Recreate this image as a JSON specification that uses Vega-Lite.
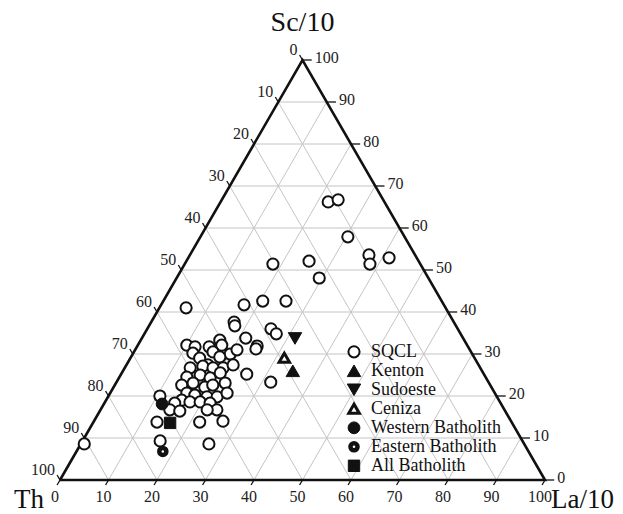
{
  "$schema": "https://vega.github.io/schema/vega-lite/v6.json",
  "width": 485,
  "height": 420,
  "autosize": {"type": "none"},
  "padding": {"left": 60, "top": 60, "right": 78, "bottom": 34},
  "background": "white",
  "config": {
    "view": {"stroke": null},
    "font": "Liberation Serif",
    "legend": {
      "orient": "none", "legendX": 285, "legendY": 283, "padding": 0,
      "labelFont": "Liberation Serif", "labelFontSize": 18, "labelColor": "#111",
      "symbolStrokeColor": "#111", "labelOffset": 8, "rowPadding": 0, "clipHeight": 17.6, "labelLimit": 300
    }
  },
  "datasets": {
    "grid": [
      {"La1": 0, "Sc1": 10, "La2": 90, "Sc2": 10}, {"La1": 0, "Sc1": 20, "La2": 80, "Sc2": 20}, {"La1": 0, "Sc1": 30, "La2": 70, "Sc2": 30},
      {"La1": 0, "Sc1": 40, "La2": 60, "Sc2": 40}, {"La1": 0, "Sc1": 50, "La2": 50, "Sc2": 50}, {"La1": 0, "Sc1": 60, "La2": 40, "Sc2": 60},
      {"La1": 0, "Sc1": 70, "La2": 30, "Sc2": 70}, {"La1": 0, "Sc1": 80, "La2": 20, "Sc2": 80}, {"La1": 0, "Sc1": 90, "La2": 10, "Sc2": 90},
      {"La1": 10, "Sc1": 0, "La2": 10, "Sc2": 90}, {"La1": 20, "Sc1": 0, "La2": 20, "Sc2": 80}, {"La1": 30, "Sc1": 0, "La2": 30, "Sc2": 70},
      {"La1": 40, "Sc1": 0, "La2": 40, "Sc2": 60}, {"La1": 50, "Sc1": 0, "La2": 50, "Sc2": 50}, {"La1": 60, "Sc1": 0, "La2": 60, "Sc2": 40},
      {"La1": 70, "Sc1": 0, "La2": 70, "Sc2": 30}, {"La1": 80, "Sc1": 0, "La2": 80, "Sc2": 20}, {"La1": 90, "Sc1": 0, "La2": 90, "Sc2": 10},
      {"La1": 90, "Sc1": 0, "La2": 0, "Sc2": 90}, {"La1": 80, "Sc1": 0, "La2": 0, "Sc2": 80}, {"La1": 70, "Sc1": 0, "La2": 0, "Sc2": 70},
      {"La1": 60, "Sc1": 0, "La2": 0, "Sc2": 60}, {"La1": 50, "Sc1": 0, "La2": 0, "Sc2": 50}, {"La1": 40, "Sc1": 0, "La2": 0, "Sc2": 40},
      {"La1": 30, "Sc1": 0, "La2": 0, "Sc2": 30}, {"La1": 20, "Sc1": 0, "La2": 0, "Sc2": 20}, {"La1": 10, "Sc1": 0, "La2": 0, "Sc2": 10}
    ],
    "outline": [
      {"o": 0, "La": 0, "Sc": 0}, {"o": 1, "La": 100, "Sc": 0}, {"o": 2, "La": 0, "Sc": 100}, {"o": 3, "La": 0, "Sc": 0}
    ],
    "names": [
      {"label": "Sc/10", "La": 0, "Sc": 100},
      {"label": "Th", "La": 0, "Sc": 0},
      {"label": "La/10", "La": 100, "Sc": 0}
    ],
    "ticks": [
      {"side": "left", "v": 0, "La1": 0, "Sc1": 100, "La2": -1.2, "Sc2": 101.2},
      {"side": "left", "v": 10, "La1": 0, "Sc1": 90, "La2": -1.2, "Sc2": 91.2},
      {"side": "left", "v": 20, "La1": 0, "Sc1": 80, "La2": -1.2, "Sc2": 81.2},
      {"side": "left", "v": 30, "La1": 0, "Sc1": 70, "La2": -1.2, "Sc2": 71.2},
      {"side": "left", "v": 40, "La1": 0, "Sc1": 60, "La2": -1.2, "Sc2": 61.2},
      {"side": "left", "v": 50, "La1": 0, "Sc1": 50, "La2": -1.2, "Sc2": 51.2},
      {"side": "left", "v": 60, "La1": 0, "Sc1": 40, "La2": -1.2, "Sc2": 41.2},
      {"side": "left", "v": 70, "La1": 0, "Sc1": 30, "La2": -1.2, "Sc2": 31.2},
      {"side": "left", "v": 80, "La1": 0, "Sc1": 20, "La2": -1.2, "Sc2": 21.2},
      {"side": "left", "v": 90, "La1": 0, "Sc1": 10, "La2": -1.2, "Sc2": 11.2},
      {"side": "left", "v": 100, "La1": 0, "Sc1": 0, "La2": -1.2, "Sc2": 1.2},
      {"side": "right", "v": 0, "La1": 100, "Sc1": 0, "La2": 101.9, "Sc2": 0},
      {"side": "right", "v": 10, "La1": 90, "Sc1": 10, "La2": 91.9, "Sc2": 10},
      {"side": "right", "v": 20, "La1": 80, "Sc1": 20, "La2": 81.9, "Sc2": 20},
      {"side": "right", "v": 30, "La1": 70, "Sc1": 30, "La2": 71.9, "Sc2": 30},
      {"side": "right", "v": 40, "La1": 60, "Sc1": 40, "La2": 61.9, "Sc2": 40},
      {"side": "right", "v": 50, "La1": 50, "Sc1": 50, "La2": 51.9, "Sc2": 50},
      {"side": "right", "v": 60, "La1": 40, "Sc1": 60, "La2": 41.9, "Sc2": 60},
      {"side": "right", "v": 70, "La1": 30, "Sc1": 70, "La2": 31.9, "Sc2": 70},
      {"side": "right", "v": 80, "La1": 20, "Sc1": 80, "La2": 21.9, "Sc2": 80},
      {"side": "right", "v": 90, "La1": 10, "Sc1": 90, "La2": 11.9, "Sc2": 90},
      {"side": "right", "v": 100, "La1": 0, "Sc1": 100, "La2": 1.9, "Sc2": 100},
      {"side": "bottom", "v": 0, "La1": 0, "Sc1": 0, "La2": 0, "Sc2": -1.2},
      {"side": "bottom", "v": 10, "La1": 10, "Sc1": 0, "La2": 10, "Sc2": -1.2},
      {"side": "bottom", "v": 20, "La1": 20, "Sc1": 0, "La2": 20, "Sc2": -1.2},
      {"side": "bottom", "v": 30, "La1": 30, "Sc1": 0, "La2": 30, "Sc2": -1.2},
      {"side": "bottom", "v": 40, "La1": 40, "Sc1": 0, "La2": 40, "Sc2": -1.2},
      {"side": "bottom", "v": 50, "La1": 50, "Sc1": 0, "La2": 50, "Sc2": -1.2},
      {"side": "bottom", "v": 60, "La1": 60, "Sc1": 0, "La2": 60, "Sc2": -1.2},
      {"side": "bottom", "v": 70, "La1": 70, "Sc1": 0, "La2": 70, "Sc2": -1.2},
      {"side": "bottom", "v": 80, "La1": 80, "Sc1": 0, "La2": 80, "Sc2": -1.2},
      {"side": "bottom", "v": 90, "La1": 90, "Sc1": 0, "La2": 90, "Sc2": -1.2},
      {"side": "bottom", "v": 100, "La1": 100, "Sc1": 0, "La2": 100, "Sc2": -1.2}
    ],
    "samples": [
      {"group": "SQCL", "La": 22.2, "Sc": 66.2}, {"group": "SQCL", "La": 24.0, "Sc": 66.7},
      {"group": "SQCL", "La": 30.4, "Sc": 57.9}, {"group": "SQCL", "La": 36.9, "Sc": 53.6},
      {"group": "SQCL", "La": 38.2, "Sc": 51.4}, {"group": "SQCL", "La": 41.4, "Sc": 52.9},
      {"group": "SQCL", "La": 18.2, "Sc": 51.4}, {"group": "SQCL", "La": 25.3, "Sc": 52.1},
      {"group": "SQCL", "La": 29.4, "Sc": 48.1},
      {"group": "SQCL", "La": 5.5, "Sc": 41.0}, {"group": "SQCL", "La": 17.1, "Sc": 41.7},
      {"group": "SQCL", "La": 20.5, "Sc": 42.6}, {"group": "SQCL", "La": 25.3, "Sc": 42.6},
      {"group": "SQCL", "La": 17.1, "Sc": 37.6}, {"group": "SQCL", "La": 17.7, "Sc": 36.7},
      {"group": "SQCL", "La": 25.5, "Sc": 36.0}, {"group": "SQCL", "La": 27.2, "Sc": 34.8},
      {"group": "SQCL", "La": 21.4, "Sc": 33.8}, {"group": "SQCL", "La": 24.7, "Sc": 31.9},
      {"group": "SQCL", "La": 24.8, "Sc": 31.2}, {"group": "SQCL", "La": 25.9, "Sc": 25.2},
      {"group": "SQCL", "La": 31.8, "Sc": 23.3},
      {"group": "SQCL", "La": 10.1, "Sc": 32.1}, {"group": "SQCL", "La": 12.0, "Sc": 31.7},
      {"group": "SQCL", "La": 14.9, "Sc": 31.7}, {"group": "SQCL", "La": 16.3, "Sc": 33.3},
      {"group": "SQCL", "La": 17.3, "Sc": 32.1}, {"group": "SQCL", "La": 20.1, "Sc": 30.0},
      {"group": "SQCL", "La": 21.0, "Sc": 31.0}, {"group": "SQCL", "La": 12.3, "Sc": 30.2},
      {"group": "SQCL", "La": 14.3, "Sc": 29.0}, {"group": "SQCL", "La": 16.3, "Sc": 30.5},
      {"group": "SQCL", "La": 18.3, "Sc": 29.3}, {"group": "SQCL", "La": 16.8, "Sc": 27.4},
      {"group": "SQCL", "La": 13.5, "Sc": 26.7}, {"group": "SQCL", "La": 20.3, "Sc": 26.7},
      {"group": "SQCL", "La": 22.0, "Sc": 27.4}, {"group": "SQCL", "La": 15.9, "Sc": 27.1},
      {"group": "SQCL", "La": 18.2, "Sc": 26.7}, {"group": "SQCL", "La": 13.9, "Sc": 24.5},
      {"group": "SQCL", "La": 16.4, "Sc": 25.0}, {"group": "SQCL", "La": 18.8, "Sc": 24.3},
      {"group": "SQCL", "La": 20.3, "Sc": 25.5}, {"group": "SQCL", "La": 22.5, "Sc": 23.1},
      {"group": "SQCL", "La": 13.8, "Sc": 22.6}, {"group": "SQCL", "La": 15.9, "Sc": 23.1},
      {"group": "SQCL", "La": 18.8, "Sc": 22.1}, {"group": "SQCL", "La": 20.2, "Sc": 22.6},
      {"group": "SQCL", "La": 15.8, "Sc": 20.7}, {"group": "SQCL", "La": 17.7, "Sc": 20.2},
      {"group": "SQCL", "La": 20.4, "Sc": 19.8}, {"group": "SQCL", "La": 22.5, "Sc": 19.8},
      {"group": "SQCL", "La": 24.1, "Sc": 20.7}, {"group": "SQCL", "La": 15.6, "Sc": 19.0},
      {"group": "SQCL", "La": 17.5, "Sc": 18.6}, {"group": "SQCL", "La": 19.6, "Sc": 18.6},
      {"group": "SQCL", "La": 21.8, "Sc": 18.3}, {"group": "SQCL", "La": 14.5, "Sc": 18.3},
      {"group": "SQCL", "La": 14.3, "Sc": 16.7}, {"group": "SQCL", "La": 24.0, "Sc": 16.7},
      {"group": "SQCL", "La": 16.5, "Sc": 16.4}, {"group": "SQCL", "La": 22.0, "Sc": 16.7},
      {"group": "SQCL", "La": 10.6, "Sc": 20.0}, {"group": "SQCL", "La": 13.1, "Sc": 13.8},
      {"group": "SQCL", "La": 16.0, "Sc": 9.3}, {"group": "SQCL", "La": 26.4, "Sc": 8.6},
      {"group": "SQCL", "La": 21.9, "Sc": 13.8}, {"group": "SQCL", "La": 26.6, "Sc": 14.0},
      {"group": "SQCL", "La": 0.7, "Sc": 8.6},
      {"group": "Kenton", "La": 35.0, "Sc": 26.0},
      {"group": "Sudoeste", "La": 31.6, "Sc": 33.7},
      {"group": "Ceniza", "La": 31.7, "Sc": 29.1},
      {"group": "Western Batholith", "La": 12.0, "Sc": 18.1},
      {"group": "Eastern Batholith", "La": 17.8, "Sc": 6.8},
      {"group": "All Batholith", "La": 15.9, "Sc": 13.6}
    ]
  },
  "layer": [
    {
      "data": {"name": "grid"},
      "transform": [
        {"calculate": "datum.La1 + datum.Sc1 / 2", "as": "h1"},
        {"calculate": "datum.La2 + datum.Sc2 / 2", "as": "h2"}
      ],
      "mark": {"type": "rule", "color": "#c4c4c4", "strokeWidth": 1},
      "encoding": {
        "x": {"field": "h1", "type": "quantitative", "scale": {"domain": [0, 100], "nice": false, "zero": false}, "axis": null},
        "y": {"field": "Sc1", "type": "quantitative", "scale": {"domain": [0, 100], "nice": false, "zero": false}, "axis": null},
        "x2": {"field": "h2"},
        "y2": {"field": "Sc2"}
      }
    },
    {
      "data": {"name": "ticks"},
      "transform": [
        {"calculate": "datum.La1 + datum.Sc1 / 2", "as": "h1"},
        {"calculate": "datum.La2 + datum.Sc2 / 2", "as": "h2"}
      ],
      "mark": {"type": "rule", "color": "#111", "strokeWidth": 1.3},
      "encoding": {
        "x": {"field": "h1", "type": "quantitative", "scale": {"domain": [0, 100], "nice": false, "zero": false}, "axis": null},
        "y": {"field": "Sc1", "type": "quantitative", "scale": {"domain": [0, 100], "nice": false, "zero": false}, "axis": null},
        "x2": {"field": "h2"},
        "y2": {"field": "Sc2"}
      }
    },
    {
      "data": {"name": "outline"},
      "transform": [{"calculate": "datum.La + datum.Sc / 2", "as": "h"}],
      "mark": {"type": "line", "color": "#111", "strokeWidth": 2.6, "strokeJoin": "miter"},
      "encoding": {
        "x": {"field": "h", "type": "quantitative", "scale": {"domain": [0, 100], "nice": false, "zero": false}, "axis": null},
        "y": {"field": "Sc", "type": "quantitative", "scale": {"domain": [0, 100], "nice": false, "zero": false}, "axis": null},
        "order": {"field": "o", "type": "quantitative"}
      }
    },
    {
      "data": {"name": "ticks"},
      "transform": [
        {"filter": "datum.side == 'left'"},
        {"calculate": "datum.La2 + datum.Sc2 / 2", "as": "h2"}
      ],
      "mark": {"type": "text", "align": "right", "baseline": "middle", "dx": -2, "dy": -5, "fontSize": 16, "font": "Liberation Serif", "color": "#222"},
      "encoding": {
        "x": {"field": "h2", "type": "quantitative", "scale": {"domain": [0, 100], "nice": false, "zero": false}, "axis": null},
        "y": {"field": "Sc2", "type": "quantitative", "scale": {"domain": [0, 100], "nice": false, "zero": false}, "axis": null},
        "text": {"field": "v", "type": "nominal"}
      }
    },
    {
      "data": {"name": "ticks"},
      "transform": [
        {"filter": "datum.side == 'right'"},
        {"calculate": "datum.La2 + datum.Sc2 / 2", "as": "h2"}
      ],
      "mark": {"type": "text", "align": "left", "baseline": "middle", "dx": 3, "dy": -2, "fontSize": 16, "font": "Liberation Serif", "color": "#222"},
      "encoding": {
        "x": {"field": "h2", "type": "quantitative", "scale": {"domain": [0, 100], "nice": false, "zero": false}, "axis": null},
        "y": {"field": "Sc2", "type": "quantitative", "scale": {"domain": [0, 100], "nice": false, "zero": false}, "axis": null},
        "text": {"field": "v", "type": "nominal"}
      }
    },
    {
      "data": {"name": "ticks"},
      "transform": [
        {"filter": "datum.side == 'bottom'"},
        {"calculate": "datum.La2 + datum.Sc2 / 2", "as": "h2"}
      ],
      "mark": {"type": "text", "align": "center", "baseline": "middle", "dx": -2, "dy": 12, "fontSize": 16, "font": "Liberation Serif", "color": "#222"},
      "encoding": {
        "x": {"field": "h2", "type": "quantitative", "scale": {"domain": [0, 100], "nice": false, "zero": false}, "axis": null},
        "y": {"field": "Sc2", "type": "quantitative", "scale": {"domain": [0, 100], "nice": false, "zero": false}, "axis": null},
        "text": {"field": "v", "type": "nominal"}
      }
    },
    {
      "data": {"name": "names"},
      "transform": [
        {"filter": "datum.label == 'Sc/10'"},
        {"calculate": "datum.La + datum.Sc / 2", "as": "h"}
      ],
      "mark": {"type": "text", "align": "center", "baseline": "alphabetic", "dx": 0, "dy": -29, "fontSize": 28, "font": "Liberation Serif", "color": "#111"},
      "encoding": {
        "x": {"field": "h", "type": "quantitative", "scale": {"domain": [0, 100], "nice": false, "zero": false}, "axis": null},
        "y": {"field": "Sc", "type": "quantitative", "scale": {"domain": [0, 100], "nice": false, "zero": false}, "axis": null},
        "text": {"field": "label", "type": "nominal"}
      }
    },
    {
      "data": {"name": "names"},
      "transform": [
        {"filter": "datum.label == 'Th'"},
        {"calculate": "datum.La + datum.Sc / 2", "as": "h"}
      ],
      "mark": {"type": "text", "align": "right", "baseline": "alphabetic", "dx": -16, "dy": 28, "fontSize": 27, "font": "Liberation Serif", "color": "#111"},
      "encoding": {
        "x": {"field": "h", "type": "quantitative", "scale": {"domain": [0, 100], "nice": false, "zero": false}, "axis": null},
        "y": {"field": "Sc", "type": "quantitative", "scale": {"domain": [0, 100], "nice": false, "zero": false}, "axis": null},
        "text": {"field": "label", "type": "nominal"}
      }
    },
    {
      "data": {"name": "names"},
      "transform": [
        {"filter": "datum.label == 'La/10'"},
        {"calculate": "datum.La + datum.Sc / 2", "as": "h"}
      ],
      "mark": {"type": "text", "align": "left", "baseline": "alphabetic", "dx": 6, "dy": 28, "fontSize": 27, "font": "Liberation Serif", "color": "#111"},
      "encoding": {
        "x": {"field": "h", "type": "quantitative", "scale": {"domain": [0, 100], "nice": false, "zero": false}, "axis": null},
        "y": {"field": "Sc", "type": "quantitative", "scale": {"domain": [0, 100], "nice": false, "zero": false}, "axis": null},
        "text": {"field": "label", "type": "nominal"}
      }
    },
    {
      "data": {"name": "samples"},
      "transform": [{"calculate": "datum.La + datum.Sc / 2", "as": "h"}],
      "mark": {"type": "point", "filled": true, "opacity": 1},
      "encoding": {
        "x": {"field": "h", "type": "quantitative", "scale": {"domain": [0, 100], "nice": false, "zero": false}, "axis": null},
        "y": {"field": "Sc", "type": "quantitative", "scale": {"domain": [0, 100], "nice": false, "zero": false}, "axis": null},
        "shape": {"field": "group", "type": "nominal", "legend": {"title": null},
          "scale": {"domain": ["SQCL", "Kenton", "Sudoeste", "Ceniza", "Western Batholith", "Eastern Batholith", "All Batholith"],
                    "range": ["circle", "triangle-up", "triangle-down", "triangle-up", "circle", "circle", "square"]}},
        "fill": {"field": "group", "type": "nominal", "legend": {"title": null},
          "scale": {"domain": ["SQCL", "Kenton", "Sudoeste", "Ceniza", "Western Batholith", "Eastern Batholith", "All Batholith"],
                    "range": ["white", "#111", "#111", "white", "#111", "white", "#111"]}},
        "stroke": {"field": "group", "type": "nominal", "legend": {"title": null},
          "scale": {"domain": ["SQCL", "Kenton", "Sudoeste", "Ceniza", "Western Batholith", "Eastern Batholith", "All Batholith"],
                    "range": ["#111", "#111", "#111", "#111", "#111", "#111", "#111"]}},
        "strokeWidth": {"field": "group", "type": "ordinal", "legend": {"title": null},
          "scale": {"type": "ordinal", "domain": ["SQCL", "Kenton", "Sudoeste", "Ceniza", "Western Batholith", "Eastern Batholith", "All Batholith"],
                    "range": [2, 1, 1, 3, 1, 4.5, 1]}},
        "size": {"field": "group", "type": "ordinal", "legend": {"title": null},
          "scale": {"type": "ordinal", "domain": ["SQCL", "Kenton", "Sudoeste", "Ceniza", "Western Batholith", "Eastern Batholith", "All Batholith"],
                    "range": [125, 180, 180, 110, 140, 50, 130]}}
      }
    }
  ]
}
